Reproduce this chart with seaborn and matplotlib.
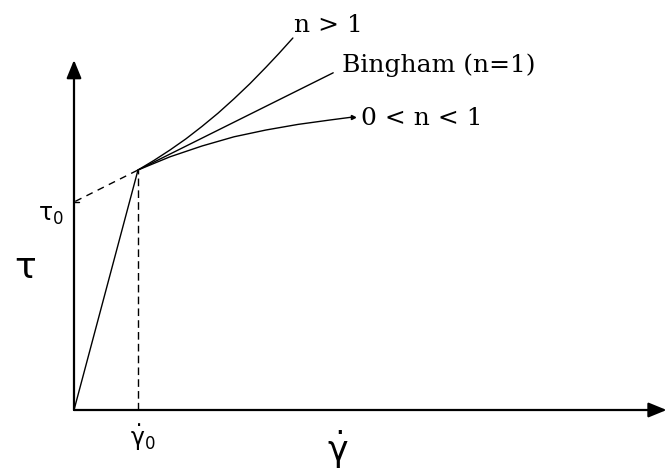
import matplotlib
matplotlib.use("Agg")
import matplotlib.pyplot as plt
import seaborn as sns

# Flow curves of a yield-stress fluid (shear stress tau vs shear rate gamma_dot)
gamma0 = 1.0          # shear rate at the yield point
tau_yield = 6.0       # stress at the yield point
tau0 = 5.2            # extrapolated (Bingham) yield stress

# elastic branch below the yield point
elastic_gamma = [0.0, 1.0]
elastic_tau = [0.0, 6.0]

# Bingham plastic (n = 1)
bingham_gamma = [1.0, 4.05]
bingham_tau = [6.0, 8.43]

# shear-thickening branch (n > 1)
thick_gamma = [1.0, 1.25, 1.5, 1.75, 2.0, 2.25, 2.5, 2.75, 3.0, 3.2, 3.42]
thick_tau = [6.0, 6.24, 6.50, 6.78, 7.09, 7.42, 7.78, 8.16, 8.57, 8.91, 9.30]

# shear-thinning branch (0 < n < 1)
thin_gamma = [1.0, 1.5, 2.0, 2.5, 3.0, 3.5, 4.0, 4.36]
thin_tau = [6.0, 6.33, 6.60, 6.83, 7.00, 7.14, 7.25, 7.325]

curve_labels = ["n > 1", "Bingham (n=1)", "0 < n < 1"]

sns.set_style("white")
plt.rcParams["text.color"] = "black"
fig = plt.figure(figsize=(6.68, 4.70), dpi=100)
ax = fig.add_axes([0, 0, 1, 1])
ax.set_xlim(-74 / 64, 594 / 64)
ax.set_ylim(-1.5, 10.25)
ax.axis("off")

lw_curve = 1.0
kw = dict(color="black", linewidth=lw_curve, estimator=None, sort=False, ax=ax, legend=False)

sns.lineplot(x=elastic_gamma, y=elastic_tau, **kw)
sns.lineplot(x=bingham_gamma, y=bingham_tau, **kw)
sns.lineplot(x=thick_gamma, y=thick_tau, **kw)
sns.lineplot(x=thin_gamma, y=thin_tau, **kw)

# small arrow tip at the end of the shear-thinning curve
ax.plot([thin_gamma[-1]], [thin_tau[-1]], marker=">", color="black", markersize=3)

# vertical guide at the yield shear rate
sns.lineplot(x=[gamma0, gamma0], y=[0.0, tau_yield], **kw)
ax.lines[-1].set_dashes([5.5, 3.0])

# Bingham extrapolation back to tau0
sns.lineplot(x=[0.0, gamma0], y=[tau0, tau_yield], **kw)
ax.lines[-1].set_linestyle((8, (5.0, 4.0)))

# tick marking tau0 on the stress axis
ax.plot([0.0, 0.08], [tau0, tau0], color="black", linewidth=1.0)

# axes with arrow heads
arrow = dict(arrowstyle="-|>,head_length=1.1,head_width=0.45", color="black",
             lw=1.6, mutation_scale=10, shrinkA=0, shrinkB=0)
ax.annotate("", xy=(9.26, 0.0), xytext=(0.0, 0.0), arrowprops=arrow)
ax.annotate("", xy=(0.0, 8.75), xytext=(0.0, 0.0), arrowprops=arrow)

# curve labels
serif = dict(family="DejaVu Serif", fontsize=18, va="baseline", ha="left", color="black")
ax.text(3.43, 9.45, curve_labels[0], **serif)
ax.text(4.19, 8.45, curve_labels[1], **serif)
ax.text(4.48, 7.125, curve_labels[2], **serif)

# axis symbols
ax.text(-0.77, 3.55, r"$\mathrm{\tau}$", fontsize=26, ha="center", va="center", color="black")
ax.text(-0.36, 4.88, r"$\mathrm{\tau_0}$", fontsize=17, ha="center", va="center", color="black")
ax.text(1.07, -0.68, r"$\mathrm{\dot{\gamma}_0}$", fontsize=17, ha="center", va="center", color="black")
ax.text(4.12, -1.0, r"$\mathrm{\dot{\gamma}}$", fontsize=25, ha="center", va="center", color="black")

fig.savefig("out.png", dpi=100, facecolor="white")
